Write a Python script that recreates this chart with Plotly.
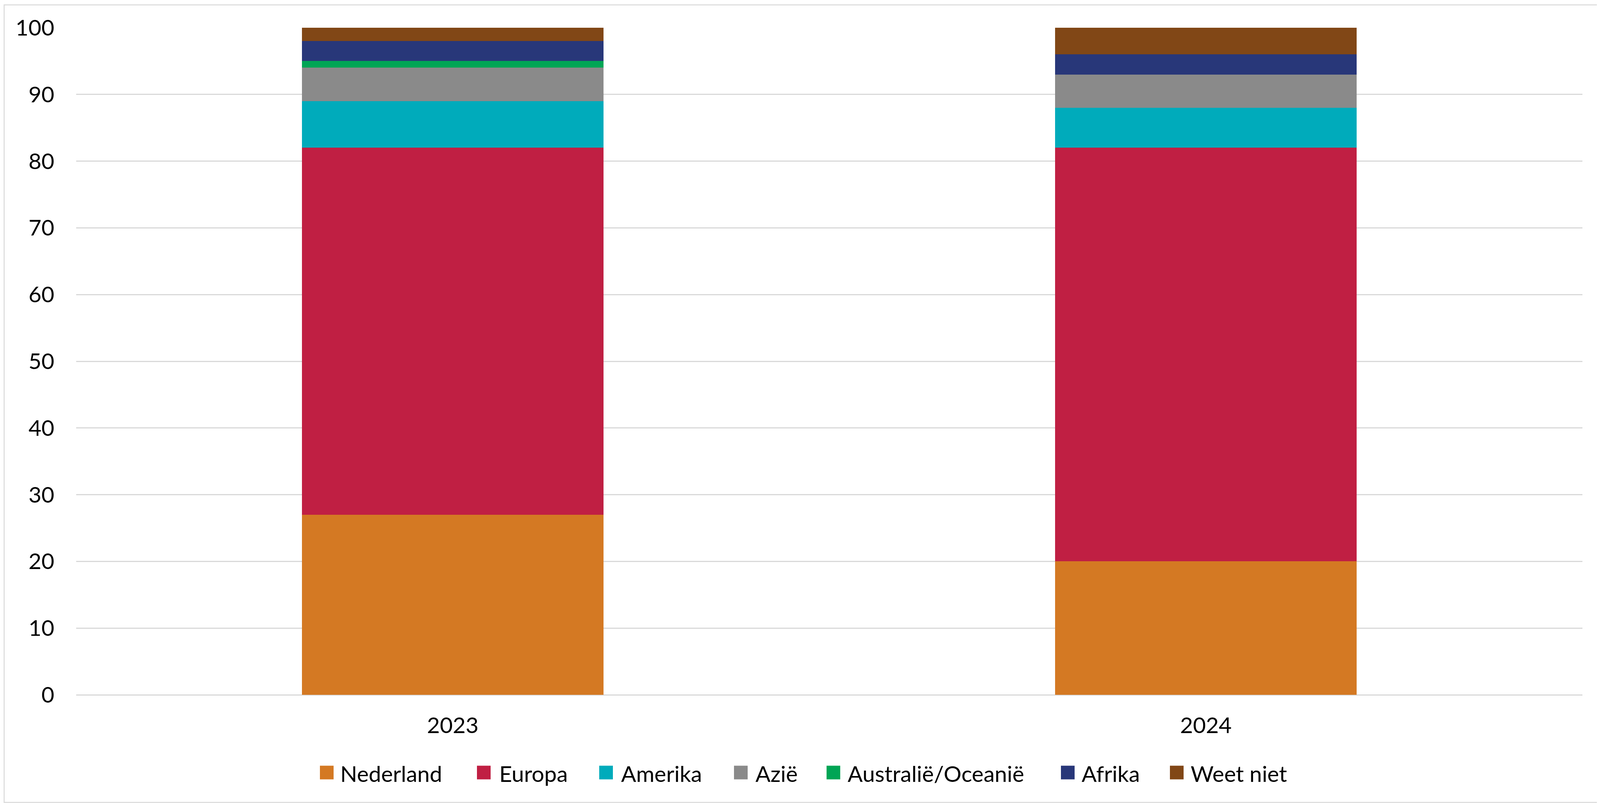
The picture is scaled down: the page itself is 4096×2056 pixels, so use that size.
import plotly.graph_objects as go

years = ["2023", "2024"]
series_names = ["Nederland", "Europa", "Amerika", "Azië", "Australië/Oceanië", "Afrika", "Weet niet"]
nederland = [27, 20]
europa = [55, 62]
amerika = [7, 6]
azie = [5, 5]
australie = [1, 0]
afrika = [3, 3]
weet_niet = [2, 4]
y_ticks = [0, 10, 20, 30, 40, 50, 60, 70, 80, 90, 100]

values = [nederland, europa, amerika, azie, australie, afrika, weet_niet]
colors = ["#D47923", "#C01F43", "#00ABBB", "#8A8A8A", "#00A555", "#283779", "#814716"]

W, H = 4096, 2056
ML, MR, MT, MB = 187, 53, 63, 285
FONT = "Lato"
FS = 57

pw = W - ML - MR
ph = H - MT - MB


def px_x(px):
    return (px - ML) / pw


def px_y(py):
    return (H - MB - py) / ph


fig = go.Figure()
for name, vals, col in zip(series_names, values, colors):
    fig.add_trace(go.Bar(x=years, y=vals, name=name, marker=dict(color=col, line=dict(width=0)),
                         showlegend=False))

# manual legend (large square swatches)
legend_sq_left = [811, 1213, 1526, 1871, 2108, 2708, 2987]
legend_txt_left = [861, 1268, 1580, 1924, 2160, 2759, 3038]
legend_yc = 1970
sq = 35
shapes = [dict(type="rect", xref="paper", yref="paper",
               x0=px_x(2.6), x1=px_x(4087), y0=px_y(2046.5), y1=px_y(4.4),
               line=dict(color="#D9D9D9", width=2.5), fillcolor="rgba(0,0,0,0)", layer="below")]
annotations = []
for name, col, sx, tx in zip(series_names, colors, legend_sq_left, legend_txt_left):
    shapes.append(dict(type="rect", xref="paper", yref="paper",
                       x0=px_x(sx), x1=px_x(sx + sq), y0=px_y(legend_yc + sq / 2), y1=px_y(legend_yc - sq / 2),
                       line=dict(width=0), fillcolor=col))
    annotations.append(dict(xref="paper", yref="paper", x=px_x(tx), y=px_y(legend_yc + 2),
                            xanchor="left", yanchor="middle", text=name, showarrow=False,
                            font=dict(family=FONT, size=FS, color="black")))

fig.update_layout(
    width=W, height=H,
    margin=dict(l=ML, r=MR, t=MT, b=MB, autoexpand=False),
    barmode="stack", bargap=0.6,
    plot_bgcolor="white", paper_bgcolor="white",
    font=dict(family=FONT, size=FS, color="black"),
    showlegend=False,
    shapes=shapes,
    annotations=annotations,
)
fig.update_yaxes(range=[0, 100], tickvals=y_ticks, showgrid=True, gridcolor="#D9D9D9", gridwidth=2.5,
                 zeroline=True, zerolinecolor="#D9D9D9", zerolinewidth=2.5, showline=False,
                 ticks="", ticklabelstandoff=55, tickfont=dict(size=FS))
fig.update_xaxes(showgrid=False, showline=False, ticks="", ticklabelstandoff=40, tickfont=dict(size=FS))

fig.write_html("out.html")
